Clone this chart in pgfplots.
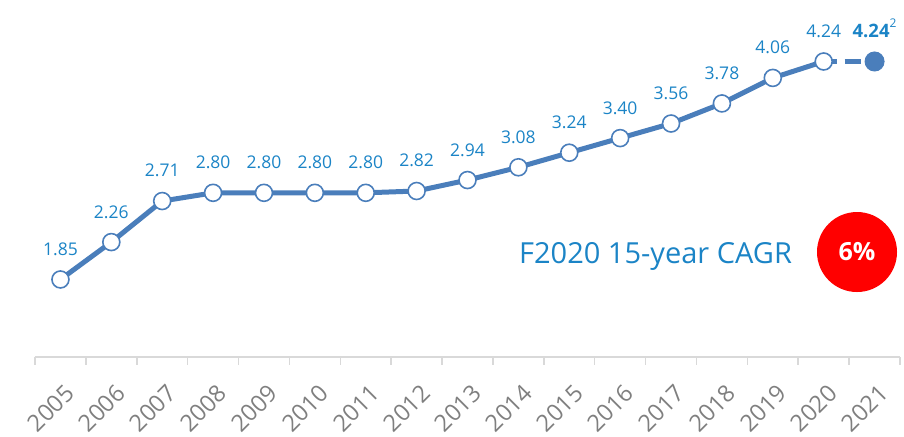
\documentclass[border=0pt]{standalone}
\usepackage{pgfplots}
\pgfplotsset{compat=1.18}
\usepackage{fontspec}
\setmainfont{Open Sans}
\definecolor{lineblue}{HTML}{4A7EBB}
\definecolor{lblblue}{HTML}{1B84C6}
\definecolor{tickgray}{HTML}{7F7F7F}
\definecolor{axgray}{HTML}{D9D9D9}
\begin{document}
\begin{tikzpicture}
\path[use as bounding box] (0pt,0pt) rectangle (904pt,436pt);
\begin{axis}[
  at={(35pt,79pt)}, anchor=south west,
  scale only axis, width=865pt, height=355.7pt,
  xmin=-0.5, xmax=16.5, ymin=1, ymax=4.9,
  clip=false,
  axis x line*=bottom, axis y line=none,
  x axis line style={axgray, line width=1.8pt},
  xtick={0,...,16},
  xticklabels={2005,2006,2007,2008,2009,2010,2011,2012,2013,2014,2015,2016,2017,2018,2019,2020,2021},
  major tick length=0pt,
  minor xtick={-0.5,0.5,...,16.5},
  minor tick length=8pt,
  tick align=outside,
  minor tick style={axgray, line width=1.5pt},
  xticklabel style={font=\fontsize{23.5}{23.5}\selectfont, text=tickgray, xshift=9.5pt, yshift=-32pt, rotate=45, anchor=east, inner sep=0pt},
  ytick=\empty,
]
\addplot[lineblue, line width=5pt, dash pattern=on 16pt off 8pt, dash phase=3pt, forget plot]
  coordinates {(15,4.24) (16,4.24)};
\addplot[lineblue, line width=5pt, mark=*, mark size=8.5pt,
  mark options={fill=white, draw=lineblue, line width=1.6pt, solid},
  point meta=explicit symbolic,
  nodes near coords,
  every node near coord/.append style={font=\fontsize{17.5}{17.5}\selectfont, text=lblblue, anchor=south, inner sep=0pt, yshift=23pt}]
  coordinates {
  (0,1.85) [1.85]
  (1,2.26) [2.26]
  (2,2.71) [2.71]
  (3,2.80) [2.80]
  (4,2.80) [2.80]
  (5,2.80) [2.80]
  (6,2.80) [2.80]
  (7,2.82) [2.82]
  (8,2.94) [2.94]
  (9,3.08) [3.08]
  (10,3.24) [3.24]
  (11,3.40) [3.40]
  (12,3.56) [3.56]
  (13,3.78) [3.78]
  (14,4.06) [4.06]
  (15,4.24) [4.24]
  };
\addplot[only marks, mark=*, mark size=9.5pt,
  mark options={fill=lineblue, draw=lineblue, line width=1pt},
  nodes near coords={\textbf{4.24}\raisebox{0.55em}{\fontsize{12}{12}\selectfont 2}},
  every node near coord/.append style={font=\fontsize{18.5}{18.5}\selectfont, text=lblblue, anchor=south, inner sep=0pt, yshift=23pt}]
  coordinates {(16,4.24)};
\node[anchor=base east, font=\fontsize{29}{29}\selectfont, text=lblblue, inner sep=0pt] at (axis cs:14.38,2.02) {F2020 15-year CAGR};
\fill[red] (axis cs:15.655,2.151) circle[radius=40pt];
\node[text=white, font=\bfseries\fontsize{25}{25}\selectfont, inner sep=0pt] at (axis cs:15.655,2.151) {6\%};
\end{axis}
\end{tikzpicture}
\end{document}
